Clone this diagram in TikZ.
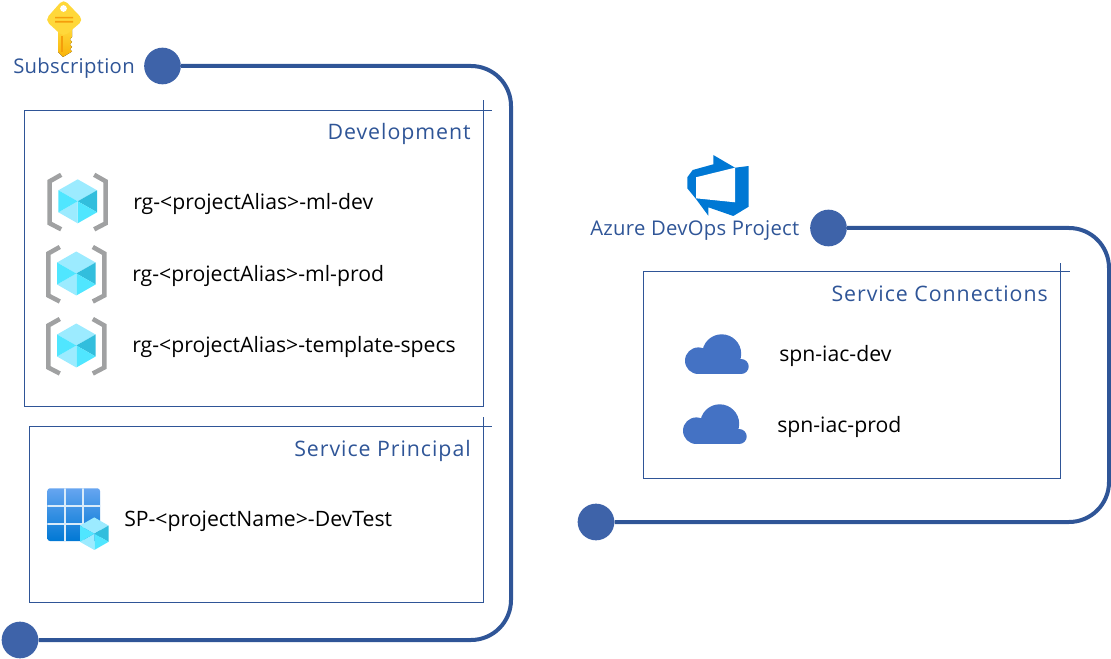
\documentclass[tikz,border=0pt]{standalone}
\usepackage{fontspec}
\setmainfont{Open Sans}
\newfontfamily\headfont[LetterSpace=4.5]{Open Sans}
\newfontfamily\subfont[LetterSpace=1.5]{Open Sans}
\definecolor{lineblue}{HTML}{2F5597}
\definecolor{dotblue}{HTML}{3E63A9}
\definecolor{cloudblue}{HTML}{4472C4}
\definecolor{cubeA}{HTML}{9CEBFF}
\definecolor{cubeB}{HTML}{50E6FF}
\definecolor{cubeC}{HTML}{32BEDD}
\definecolor{brgray}{HTML}{A0A1A2}
\definecolor{azblue}{HTML}{0078D4}
\definecolor{gridtop}{HTML}{66A5F0}
\definecolor{keytop}{HTML}{FFD83A}
\definecolor{keylow}{HTML}{F9B208}
\definecolor{keyline}{HTML}{F59E0B}
\newcommand{\hexcube}[3]{%
\begin{scope}[shift={(#1,#2)},scale=#3]
\fill[cubeA] (0,-22) -- (19.3,-11) -- (0,0) -- (-19.3,-11) -- cycle;
\fill[cubeC] (19.3,-11) -- (19.3,11) -- (0,0) -- cycle;
\fill[cubeB] (19.3,11) -- (0,22) -- (0,0) -- cycle;
\fill[cubeA] (-19.3,11) -- (0,22) -- (0,0) -- cycle;
\fill[cubeB] (-19.3,-11) -- (-19.3,11) -- (0,0) -- cycle;
\end{scope}}
\newcommand{\rgicon}[2]{%
\begin{scope}[shift={(#1,#2)}]
\draw[brgray,line width=3.4pt,line join=miter] (-16.5,-26.5) -- (-28,-20) -- (-28,22) -- (-16.5,28);
\draw[brgray,line width=3.4pt,line join=miter] (16.5,-26.5) -- (28,-20) -- (28,22) -- (16.5,28);
\end{scope}\hexcube{#1}{#2}{1}}
\newcommand{\cloudicon}[2]{%
\begin{scope}[shift={(#1,#2)}]
\fill[cloudblue] (0,0) circle[radius=13.3] (23.4,-6.9) circle[radius=19.5] (42.9,5.8) circle[radius=7.5];
\fill[cloudblue] (0,0) rectangle (42.9,13.3);
\fill[cloudblue] (0,-10) rectangle (35,6);
\end{scope}}
\tikzset{
  x=0.75pt,y=-0.75pt,
  dot/.style={circle,fill=dotblue,draw=none,minimum size=27.5pt,inner sep=0pt},
  route/.style={draw=lineblue,line width=3pt,rounded corners=30pt},
  frameline/.style={draw=lineblue,line width=0.6pt},
  head/.style={text=lineblue,font=\headfont\fontsize{16pt}{18pt}\selectfont,inner sep=0pt,anchor=base east},
  sublabel/.style={text=lineblue,font=\subfont\fontsize{15.2pt}{18pt}\selectfont,inner sep=0pt,anchor=base west},
  item/.style={text=black,font=\fontsize{15.9pt}{18pt}\selectfont,inner sep=0pt,anchor=base west},
}
\begin{document}
\begin{tikzpicture}
\useasboundingbox (0,0) rectangle (1111,659);
% frames
\draw[frameline] (24,110) rectangle (483.5,406);
\draw[frameline] (483.5,110) -- (492,110) (483.5,110) -- (483.5,100);
\draw[frameline] (29,426) rectangle (483.5,602);
\draw[frameline] (483.5,426) -- (492,426) (483.5,426) -- (483.5,417);
\draw[frameline] (643,271) rectangle (1060,478);
\draw[frameline] (1060,271) -- (1070,271) (1060,271) -- (1060,263);
% dots
\node[dot] (subA) at (162.5,66) {};
\node[dot] (subB) at (20,640) {};
\node[dot] (devA) at (828.5,228) {};
\node[dot] (devB) at (596,522) {};
\coordinate (c1) at (511,66);
\coordinate (c2) at (511,640);
\coordinate (c3) at (1109,228);
\coordinate (c4) at (1109,522);
\draw[route] (subA) -- (c1) -- (c2) -- (subB);
\draw[route] (devA) -- (c3) -- (c4) -- (devB);
% key icon
\fill[top color=keytop,bottom color=keylow] (58,28) -- (58,52) -- (63,57) -- (72,51.5) -- (70,49.5) -- (72,47) -- (70,44.5) -- (72,42) -- (70,39.5) -- (72,37) -- (72,28) -- cycle;
\fill[keytop,rounded corners=4pt] (63.5,-1) -- (83.5,20) -- (63.5,37) -- (45,20) -- cycle;
\fill[white] (63.5,8.5) circle[radius=3.4];
\fill[keyline] (55,16.8) rectangle (73,18.4) (55,21) rectangle (73,22.6);
\fill[keyline] (61,36) rectangle (62.6,52);
% rg icons
\rgicon{77.7}{201.3}
\rgicon{76.3}{273.5}
\rgicon{76.3}{345.5}
% service principal icon
\shade[top color=gridtop,bottom color=azblue,rounded corners=2pt] (47.3,488.3) rectangle (100,541);
\fill[white!85!azblue] (64,488.3) rectangle (65.8,541) (82,488.3) rectangle (83.8,541)
  (47.3,505) rectangle (100,506.8) (47.3,523) rectangle (100,524.8);
\hexcube{94.3}{533.7}{0.74}
% devops icon
\fill[azblue] (713.3,155) -- (735,167.7) -- (748.7,166) -- (748.7,206.7) -- (733.3,216) -- (708.3,207.3) -- (708.3,215.7) -- (696,199) -- (687.3,188.3) -- (687.3,177.3) -- (692.7,170) -- (713.3,164.3) -- cycle;
\fill[white] (696,177.3) -- (735,167.7) -- (735,202.3) -- (696,198.3) -- cycle;
% clouds
\cloudicon{698.3}{360.7}
\cloudicon{696.3}{430.7}
% text
\node[sublabel] (subtxt) at (13,73.5) {Subscription};
\node[sublabel] (devtxt) at (590,235.5) {Azure DevOps Project};
\node[head] (h1) at (471,140) {Development};
\node[head] (h2) at (471,456) {Service Principal};
\node[head] (h3) at (1048,302) {Service Connections};
\node[item] (t1) at (133,210) {rg-<projectAlias>-ml-dev};
\node[item] (t2) at (132,282) {rg-<projectAlias>-ml-prod};
\node[item] (t3) at (132,353) {rg-<projectAlias>-template-specs};
\node[item] (t4) at (124,526) {SP-<projectName>-DevTest};
\node[item] (t5) at (779,362) {spn-iac-dev};
\node[item] (t6) at (777,432) {spn-iac-prod};
\end{tikzpicture}
\end{document}
